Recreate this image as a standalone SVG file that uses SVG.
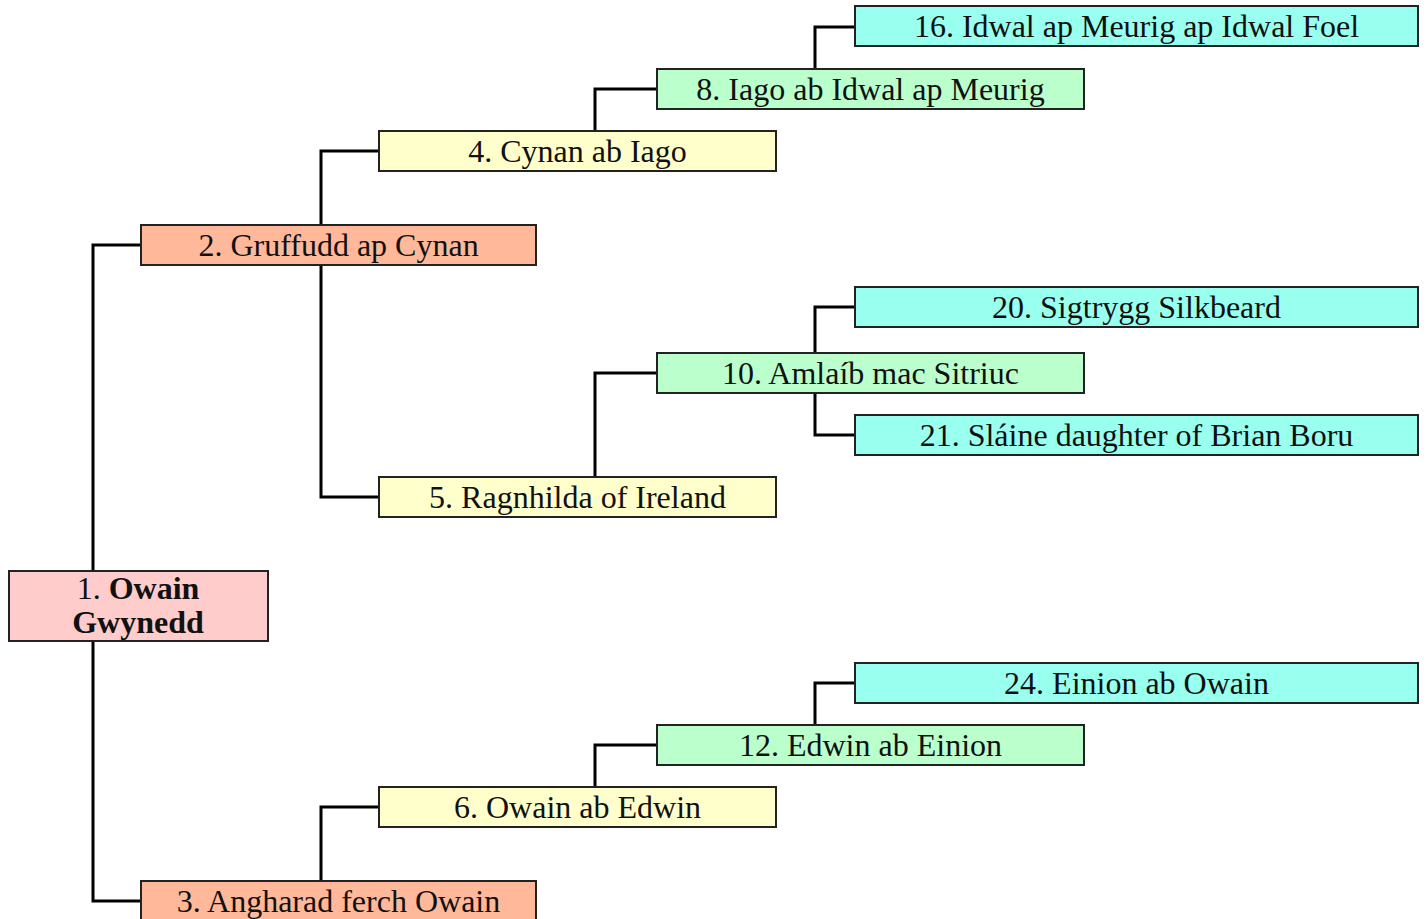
<svg xmlns="http://www.w3.org/2000/svg" width="1428" height="919" viewBox="0 0 1428 919">
<style>
.b{stroke:#222;stroke-width:2}
.g1{fill:#ffcccc}.g2{fill:#ffb899}.g3{fill:#ffffcc}.g4{fill:#bbffcc}.g5{fill:#99ffee}
text{font-family:"Liberation Serif","Times New Roman",serif;font-size:32px;fill:#111;text-anchor:middle}
.c path{fill:none;stroke:#000;stroke-width:3}
</style>
<rect width="1428" height="919" fill="#fff"/>
<g class="c">
<path d="M141,245H93V571M93,641V901H141"/>
<path d="M379,151H321V225M321,265V497H379"/>
<path d="M657,89H595V131"/>
<path d="M855,27H815V69"/>
<path d="M657,373H595V477"/>
<path d="M855,307H815V353M815,393V435H855"/>
<path d="M379,807H321V881"/>
<path d="M657,745H595V787"/>
<path d="M855,683H815V725"/>
</g>
<g id="n1"><rect class="b g1" x="9" y="571" width="259" height="70"/><text x="138" y="599">1. <tspan font-weight="bold">Owain</tspan></text><text x="138" y="633" font-weight="bold">Gwynedd</text></g>
<g id="n2"><rect class="b g2" x="141" y="225" width="395" height="40"/><text x="338.5" y="256">2. Gruffudd ap Cynan</text></g>
<g id="n3"><rect class="b g2" x="141" y="881" width="395" height="40"/><text x="338.5" y="912">3. Angharad ferch Owain</text></g>
<g id="n4"><rect class="b g3" x="379" y="131" width="397" height="40"/><text x="577.5" y="162">4. Cynan ab Iago</text></g>
<g id="n5"><rect class="b g3" x="379" y="477" width="397" height="40"/><text x="577.5" y="508">5. Ragnhilda of Ireland</text></g>
<g id="n6"><rect class="b g3" x="379" y="787" width="397" height="40"/><text x="577.5" y="818">6. Owain ab Edwin</text></g>
<g id="n8"><rect class="b g4" x="657" y="69" width="427" height="40"/><text x="870.5" y="100">8. Iago ab Idwal ap Meurig</text></g>
<g id="n10"><rect class="b g4" x="657" y="353" width="427" height="40"/><text x="870.5" y="384">10. Amlaíb mac Sitriuc</text></g>
<g id="n12"><rect class="b g4" x="657" y="725" width="427" height="40"/><text x="870.5" y="756">12. Edwin ab Einion</text></g>
<g id="n16"><rect class="b g5" x="855" y="6" width="563" height="40"/><text x="1136.5" y="37">16. Idwal ap Meurig ap Idwal Foel</text></g>
<g id="n20"><rect class="b g5" x="855" y="287" width="563" height="40"/><text x="1136.5" y="318">20. Sigtrygg Silkbeard</text></g>
<g id="n21"><rect class="b g5" x="855" y="415" width="563" height="40"/><text x="1136.5" y="446">21. Sláine daughter of Brian Boru</text></g>
<g id="n24"><rect class="b g5" x="855" y="663" width="563" height="40"/><text x="1136.5" y="694">24. Einion ab Owain</text></g>
</svg>
